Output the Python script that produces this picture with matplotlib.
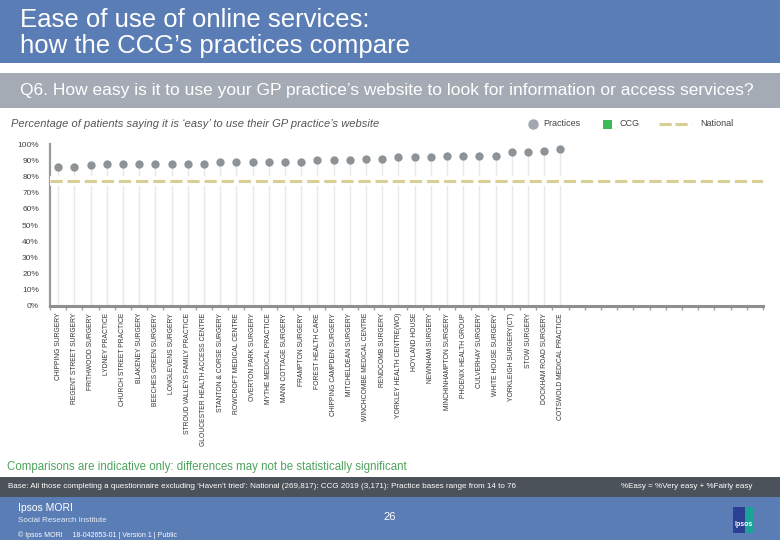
import matplotlib.pyplot as plt
from matplotlib.patches import Rectangle
from matplotlib.lines import Line2D
import numpy as np

# practices, sorted by score (left to right)
practices = [
    "CHIPPING SURGERY", "REGENT STREET SURGERY", "FRITHWOOD SURGERY", "LYDNEY PRACTICE",
    "CHURCH STREET PRACTICE", "BLAKENEY SURGERY", "BEECHES GREEN SURGERY", "LONGLEVENS SURGERY",
    "STROUD VALLEYS FAMILY PRACTICE", "GLOUCESTER HEALTH ACCESS CENTRE", "STANTON & CORSE SURGERY",
    "ROWCROFT MEDICAL CENTRE", "OVERTON PARK SURGERY", "MYTHE MEDICAL PRACTICE",
    "MANN COTTAGE SURGERY", "FRAMPTON SURGERY", "FOREST HEALTH CARE", "CHIPPING CAMPDEN SURGERY",
    "MITCHELDEAN SURGERY", "WINCHCOMBE MEDICAL CENTRE", "RENDCOMB SURGERY",
    "YORKLEY HEALTH CENTRE(WO)", "HOYLAND HOUSE", "NEWNHAM SURGERY", "MINCHINHAMPTON SURGERY",
    "PHOENIX HEALTH GROUP", "CULVERHAY SURGERY", "WHITE HOUSE SURGERY", "YORKLEIGH SURGERY(CT)",
    "STOW SURGERY", "DOCKHAM ROAD SURGERY", "COTSWOLD MEDICAL PRACTICE",
]
easy_pct = [86, 86, 87, 88, 88, 88, 88, 88, 88, 88, 89, 89, 89, 89, 89, 89,
            90, 90, 90, 91, 91, 92, 92, 92, 93, 93, 93, 93, 95, 95, 96, 97]
national_pct = 77
n_slots = 44
y_ticks = [0, 10, 20, 30, 40, 50, 60, 70, 80, 90, 100]

W, H = 780, 540
BLUE = "#5b7db5"
GREY_BAND = "#a5abb5"
DARK_BAND = "#4b5259"
DOT = "#8e9398"
NAT = "#d8cf96"

plt.rcParams['font.family'] = ['Liberation Sans', 'DejaVu Sans']

fig = plt.figure(figsize=(7.8, 5.4), dpi=100)


def fy(y):
    return 1 - y / H


def band(y0, y1, color):
    fig.patches.append(Rectangle((0, fy(y1)), 1, (y1 - y0) / H, transform=fig.transFigure,
                                 facecolor=color, edgecolor='none', zorder=0))


# header and footer bands
band(0, 63, BLUE)
band(73, 108, GREY_BAND)
band(477, 497, DARK_BAND)
band(497, 540, BLUE)

fig.text(20 / W, fy(20), "Ease of use of online services:", color='white', fontsize=18.5,
         va='center', ha='left')
fig.text(20 / W, fy(46), "how the CCG\u2019s practices compare", color='white', fontsize=18.5,
         va='center', ha='left')
fig.text(20 / W, fy(91), "Q6. How easy is it to use your GP practice\u2019s website to look for information or access services?",
         color='white', fontsize=12.5, va='center', ha='left')
fig.text(11 / W, fy(124), "Percentage of patients saying it is \u2018easy\u2019 to use their GP practice\u2019s website",
         color='#555555', fontsize=8.0, style='italic', va='center', ha='left')

# legend
fig.lines.append(Line2D([533 / W], [fy(124)], transform=fig.transFigure, marker='o',
                        markersize=6.5, color='#a2a7ad', lw=0))
fig.text(543 / W, fy(124), "Practices", fontsize=6.5, color='#444444', va='center')
fig.patches.append(Rectangle((603 / W, fy(129)), 9 / W, 9 / H, transform=fig.transFigure,
                             facecolor='#3dba5a', edgecolor='none'))
fig.text(620 / W, fy(124), "CCG", fontsize=6.5, color='#444444', va='center')
fig.lines.append(Line2D([659 / W, 691 / W], [fy(124), fy(124)], transform=fig.transFigure,
                        color=NAT, lw=2.2, dashes=(4, 1.2)))
fig.text(700 / W, fy(124), "National", fontsize=6.5, color='#444444', va='center')

# main chart
ax = fig.add_axes([50 / W, fy(306), 713 / W, (306 - 144.3) / H])
x = np.arange(len(practices))
ax.vlines(x, 0, easy_pct, color='#e8e8e8', lw=1, zorder=1)
ax.axhline(national_pct, color='white', lw=7, zorder=2.6)
ax.axhline(national_pct, color=NAT, lw=2.2, dashes=(4, 1.6), zorder=2.7)
ax.scatter(x, easy_pct, s=36, color=DOT, zorder=4, linewidths=0)

ax.set_xlim(-0.5, n_slots - 0.5)
ax.set_ylim(0, 100)
ax.set_yticks(y_ticks)
ax.set_yticklabels([f"{t}%" for t in y_ticks], fontsize=6, color='#444444')
ax.tick_params(axis='y', length=0, pad=8)
ax.set_xticks(x)
ax.set_xticklabels(practices, rotation=90, fontsize=4.9, color='#333333')
ax.tick_params(axis='x', which='major', length=0, pad=5)
ax.set_xticks(np.arange(n_slots + 1) - 0.5, minor=True)
ax.tick_params(axis='x', which='minor', length=3, width=1, color='#a0a0a0', direction='out')
for s in ['top', 'right']:
    ax.spines[s].set_visible(False)
ax.spines['left'].set_color('#9a9a9a')
ax.spines['left'].set_linewidth(1.6)
ax.spines['bottom'].set_color('#8f8f8f')
ax.spines['bottom'].set_linewidth(2.2)
ax.patch.set_alpha(0)

# footer texts
fig.text(7 / W, fy(467), "Comparisons are indicative only: differences may not be statistically significant",
         color='#4fa35f', fontsize=8.3, va='center')
fig.text(8 / W, fy(487), "Base: All those completing a questionnaire excluding \u2018Haven\u2019t tried\u2019: National (269,817): CCG 2019 (3,171): Practice bases range from 14 to 76",
         color='white', fontsize=5.75, va='center')
fig.text(621 / W, fy(487), "%Easy = %Very easy + %Fairly easy", color='white', fontsize=5.75, va='center')
fig.text(18 / W, fy(508), "Ipsos MORI", color='white', fontsize=7.5, va='center')
fig.text(18 / W, fy(521), "Social Research Institute", color='#e6ecf5', fontsize=5.8, va='center')
fig.text(18 / W, fy(535), "\u00a9 Ipsos MORI     18-042653-01 | Version 1 | Public", color='white',
         fontsize=5.0, va='center')
fig.text(390 / W, fy(517), "26", color='white', fontsize=8, va='center', ha='center')

# logo
fig.patches.append(Rectangle((733 / W, fy(533)), 13 / W, 26 / H, transform=fig.transFigure,
                             facecolor='#2b3f95', edgecolor='none'))
fig.patches.append(Rectangle((745 / W, fy(533)), 9 / W, 26 / H, transform=fig.transFigure,
                             facecolor='#1aa396', edgecolor='none'))
fig.text(743.5 / W, fy(525), "Ipsos", color='white', fontsize=5, weight='bold', va='center', ha='center')

fig.savefig("out.png", dpi=100)
